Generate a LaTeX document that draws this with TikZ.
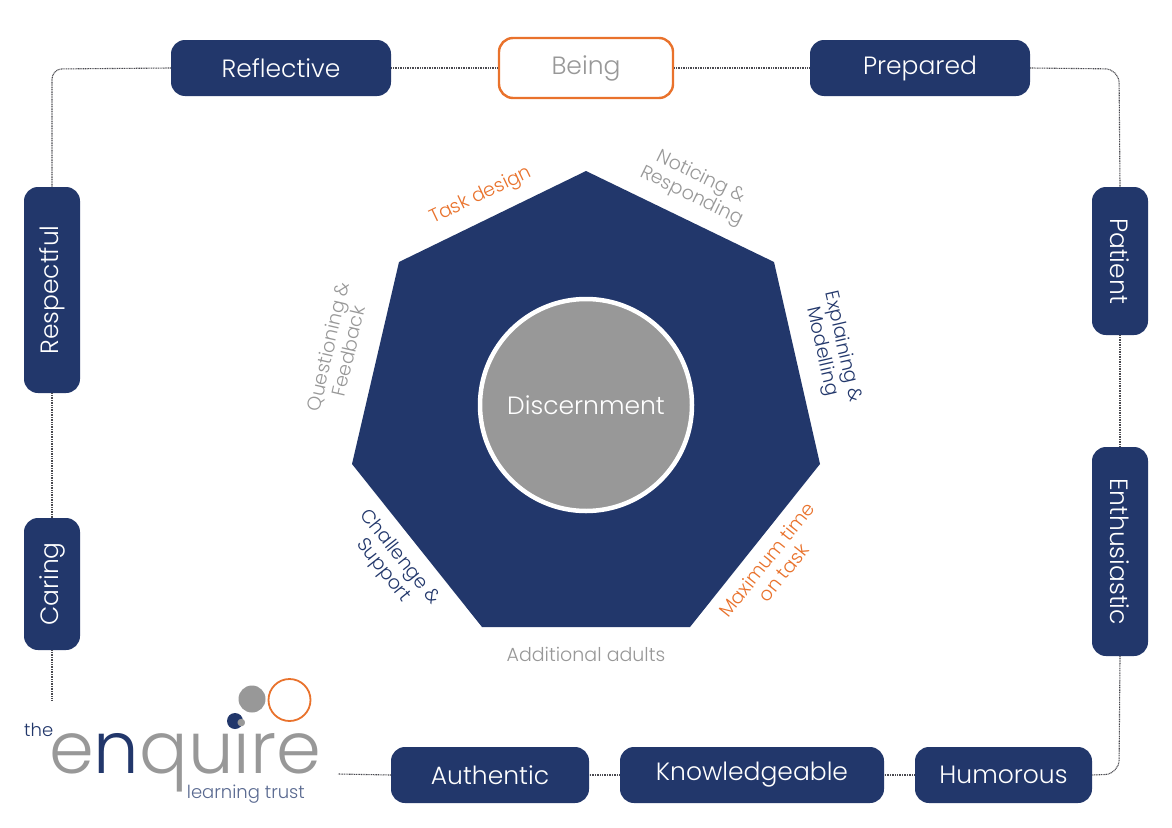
\documentclass[tikz,border=0pt]{standalone}
\usepackage{fontspec}
\setmainfont{Poppins Light}
\definecolor{navy}{HTML}{22376B}
\definecolor{orng}{HTML}{E9722C}
\definecolor{gry}{HTML}{989898}
\definecolor{dots}{HTML}{4A4A50}
\tikzset{
  pill/.style={rounded corners=14pt,fill=navy,text=white,font=\fontsize{25}{25}\selectfont,inner sep=0pt,anchor=center},
  conn/.style={dots,line width=1.1pt,dash pattern=on 1pt off 0.7pt},
  sidelabel/.style={font=\fontsize{19}{21}\selectfont,align=center,inner sep=0pt},
}
\begin{document}
\begin{tikzpicture}[x=1pt,y=-1pt]
\useasboundingbox (0,0) rectangle (1172,827);
\fill[white] (0,0) rectangle (1172,827);
% connector helpers
\coordinate (freeA) at (52,700);
\coordinate (freeB) at (338,774);
\coordinate (cTL) at (52,69);
\coordinate (cTR) at (1119,69);
\coordinate (cBR) at (1119,774);
% nodes
\node[pill,minimum width=220pt,minimum height=56pt] (reflective) at (281,68) {Reflective};
\node[rounded corners=14pt,draw=orng,line width=2.4pt,text=gry,fill=white,font=\fontsize{25}{25}\selectfont,inner sep=0pt,minimum width=174pt,minimum height=60pt] (being) at (586,68) {Being};
\node[pill,minimum width=220pt,minimum height=56pt] (prepared) at (920,68) {Prepared};
\node[pill,minimum width=56pt,minimum height=148pt] (patient) at (1120,261) {\rotatebox{-90}{Patient}};
\node[pill,minimum width=56pt,minimum height=209pt] (enthusiastic) at (1120,551.5) {\rotatebox{-90}{Enthusiastic}};
\node[pill,minimum width=177pt,minimum height=56pt] (humorous) at (1003.5,775) {Humorous};
\node[pill,minimum width=264pt,minimum height=56pt] (knowledgeable) at (752,775) {Knowledgeable};
\node[pill,minimum width=198pt,minimum height=56pt] (authentic) at (490,775) {Authentic};
\node[pill,minimum width=56pt,minimum height=132pt] (caring) at (52,584) {\rotatebox{90}{Caring}};
\node[pill,minimum width=56pt,minimum height=206pt] (respectful) at (52,290) {\rotatebox{90}{Respectful}};
% connectors
\draw[conn,rounded corners=10pt] (reflective.west) -- (cTL) -- (respectful.north);
\draw[conn] (reflective.east) -- (being.west);
\draw[conn] (being.east) -- (prepared.west);
\draw[conn,rounded corners=14pt] (prepared.east) -- (cTR) -- (patient.north);
\draw[conn] (patient.south) -- (enthusiastic.north);
\draw[conn,rounded corners=14pt] (enthusiastic.south) -- (cBR) -- (humorous.east);
\draw[conn] (humorous.west) -- (knowledgeable.east);
\draw[conn] (knowledgeable.west) -- (authentic.east);
\draw[conn] (authentic.west) -- (freeB);
\draw[conn] (respectful.south) -- (caring.north);
\draw[conn] (caring.south) -- (freeA);
% heptagon
\fill[navy] (586,171) -- (774,262) -- (820,464) -- (690,627) -- (482,627) -- (352,464) -- (399,262) -- cycle;
\node[circle,fill=gry,draw=white,line width=4.5pt,minimum size=212pt,inner sep=0pt,text=white,font=\fontsize{25}{25}\selectfont] (disc) at (586,405) {Discernment};
% side labels
\node[sidelabel,text=orng,rotate=25.5] (task) at (481,196) {Task design};
\node[sidelabel,text=gry,rotate=-26,align=center] (notice) at (696,187) {Noticing \&\\Responding};
\node[sidelabel,text=navy,rotate=-77] (explain) at (832,349) {Explaining \&\\Modelling};
\node[sidelabel,text=orng,rotate=51.5] (maxtime) at (775,566) {Maximum time\\on task};
\node[sidelabel,text=gry] (adults) at (586,654) {Additional adults};
\node[sidelabel,text=navy,rotate=-51.5] (challenge) at (391,564) {Challenge \&\\Support};
\node[sidelabel,text=gry,rotate=77] (question) at (338,349) {Questioning \&\\Feedback};
% logo
\fill[gry] (252,699) circle (13.5);
\draw[orng,line width=1.8pt] (289.5,700) circle (21);
\fill[navy] (235,721) circle (8);
\node[inner sep=0pt,anchor=base west,text=navy,font=\fontsize{18}{18}\selectfont] (the) at (24,736) {the};
\node[inner sep=0pt,anchor=base west,text=gry,font=\fontsize{72}{72}\selectfont] (enq) at (49,773) {e\textcolor{navy}{n}quire};
\node[inner sep=0pt,anchor=base east,text=navy!75,font=\fontsize{18}{18}\selectfont] (lt) at (305,798) {learning trust};
\end{tikzpicture}
\end{document}
